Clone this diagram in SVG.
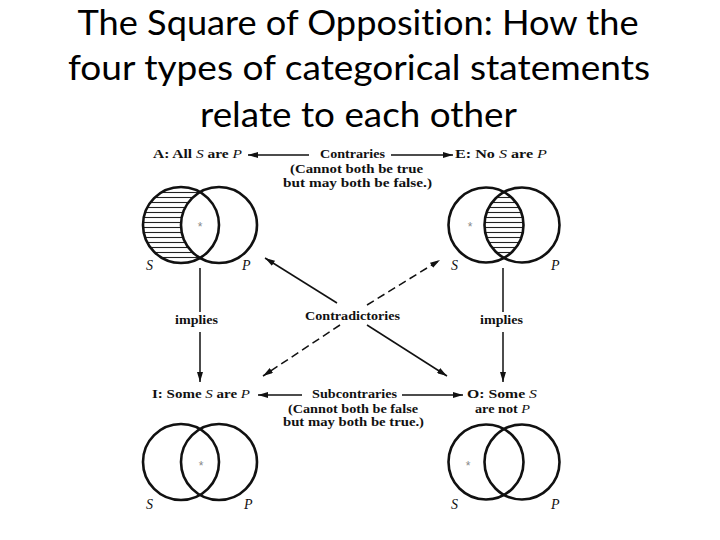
<svg xmlns="http://www.w3.org/2000/svg" width="720" height="540" viewBox="0 0 720 540">
<style>
.title{font-family:Lato,"Open Sans","Liberation Sans",sans-serif;font-size:35px;fill:#000;text-anchor:middle;font-variant-ligatures:none;font-feature-settings:"liga" 0,"clig" 0}
.lbl{font-family:"Liberation Serif","DejaVu Serif",serif;font-size:12.8px;font-weight:bold;fill:#111}
.sm{font-size:11.8px}
.it{font-style:italic;font-weight:normal}
.sp{font-family:"Liberation Serif","DejaVu Serif",serif;font-size:14px;font-style:italic;fill:#111}
.star{font-family:"Liberation Sans",sans-serif;font-size:12px;fill:#888;text-anchor:middle}
.circ{fill:none;stroke:#111;stroke-width:2.6}
.ln{stroke:#111;stroke-width:1.5;fill:none}
.dash{stroke-dasharray:8 4.5}
</style>
<defs>
<marker id="ah" markerUnits="userSpaceOnUse" markerWidth="10" markerHeight="6" refX="10" refY="3" orient="auto">
<path d="M0,0 L10,3 L0,6 z" fill="#111"/>
</marker>
<pattern id="hatch" patternUnits="userSpaceOnUse" width="8" height="5">
<line x1="0" y1="2.5" x2="8" y2="2.5" stroke="#222" stroke-width="1.1"/>
</pattern>
</defs>
<rect width="720" height="540" fill="#fff"/>
<g id="title">
<text class="title" x="358" y="34.5" textLength="561" lengthAdjust="spacingAndGlyphs">The Square of Opposition: How the</text>
<text class="title" x="359" y="80" textLength="582" lengthAdjust="spacingAndGlyphs">four types of categorical statements</text>
<text class="title" x="358.5" y="127" textLength="317" lengthAdjust="spacingAndGlyphs">relate to each other</text>
</g>
<g id="node-A">
<text class="lbl" x="153" y="158" textLength="89" lengthAdjust="spacingAndGlyphs">A: All <tspan class="it">S</tspan> are <tspan class="it">P</tspan></text>
<path d="M200,192.1 A38,38 0 1,0 200,257.9 A38,38 0 0,1 200,192.1 Z" fill="url(#hatch)"/>
<circle class="circ" cx="181" cy="225" r="38"/>
<circle class="circ" cx="219" cy="225" r="38"/>
<text class="star" x="200" y="231">*</text>
<text class="sp" x="146" y="270">S</text>
<text class="sp" x="242" y="270">P</text>
</g>
<g id="node-E">
<text class="lbl" x="455" y="158" textLength="92" lengthAdjust="spacingAndGlyphs">E: No <tspan class="it">S</tspan> are <tspan class="it">P</tspan></text>
<path d="M504,192.1 A37.5,37.5 0 0,1 504,257.9 A37.5,37.5 0 0,1 504,192.1 Z" fill="url(#hatch)"/>
<circle class="circ" cx="486" cy="225" r="37.5"/>
<circle class="circ" cx="522" cy="225" r="37.5"/>
<text class="star" x="470" y="231">*</text>
<text class="sp" x="451" y="270">S</text>
<text class="sp" x="551" y="270">P</text>
</g>
<g id="node-I">
<text class="lbl" x="152" y="398" textLength="98" lengthAdjust="spacingAndGlyphs">I: Some <tspan class="it">S</tspan> are <tspan class="it">P</tspan></text>
<circle class="circ" cx="181" cy="462" r="38"/>
<circle class="circ" cx="219" cy="462" r="38"/>
<text class="star" x="201" y="470">*</text>
<text class="sp" x="146" y="509">S</text>
<text class="sp" x="244" y="509">P</text>
</g>
<g id="node-O">
<text class="lbl" x="467" y="398" textLength="70" lengthAdjust="spacingAndGlyphs">O: Some <tspan class="it">S</tspan></text>
<text class="lbl sm" x="475" y="412.5" textLength="55" lengthAdjust="spacingAndGlyphs">are not <tspan class="it">P</tspan></text>
<circle class="circ" cx="486" cy="462" r="37.5"/>
<circle class="circ" cx="522" cy="462" r="37.5"/>
<text class="star" x="468" y="470">*</text>
<text class="sp" x="451" y="509">S</text>
<text class="sp" x="551" y="509">P</text>
</g>
<g id="connectors">
<line class="ln" x1="309" y1="155" x2="248" y2="155" marker-end="url(#ah)"/>
<line class="ln" x1="391" y1="155" x2="453" y2="155" marker-end="url(#ah)"/>
<line class="ln" x1="302" y1="395" x2="258" y2="395" marker-end="url(#ah)"/>
<line class="ln" x1="402" y1="395" x2="463" y2="395" marker-end="url(#ah)"/>
<line class="ln" x1="200" y1="268" x2="200" y2="312"/>
<line class="ln" x1="200" y1="332" x2="200" y2="382" marker-end="url(#ah)"/>
<line class="ln" x1="503" y1="268" x2="503" y2="312"/>
<line class="ln" x1="503" y1="332" x2="503" y2="382" marker-end="url(#ah)"/>
<line class="ln" x1="337" y1="303" x2="265" y2="258" marker-end="url(#ah)"/>
<line class="ln" x1="367" y1="325" x2="447" y2="376" marker-end="url(#ah)"/>
<line class="ln dash" x1="367" y1="305" x2="440" y2="260" marker-end="url(#ah)"/>
<line class="ln dash" x1="340" y1="325" x2="263" y2="376" marker-end="url(#ah)"/>
</g>
<g id="connector-labels">
<text class="lbl" x="320" y="158" textLength="65" lengthAdjust="spacingAndGlyphs">Contraries</text>
<text class="lbl sm" x="290" y="173" textLength="133" lengthAdjust="spacingAndGlyphs">(Cannot both be true</text>
<text class="lbl sm" x="283" y="186.5" textLength="149" lengthAdjust="spacingAndGlyphs">but may both be false.)</text>
<text class="lbl" x="175" y="324" textLength="43" lengthAdjust="spacingAndGlyphs">implies</text>
<text class="lbl" x="480" y="324" textLength="43" lengthAdjust="spacingAndGlyphs">implies</text>
<text class="lbl" x="305" y="320" textLength="95" lengthAdjust="spacingAndGlyphs">Contradictories</text>
<text class="lbl" x="312" y="398" textLength="85" lengthAdjust="spacingAndGlyphs">Subcontraries</text>
<text class="lbl sm" x="288" y="412.5" textLength="130" lengthAdjust="spacingAndGlyphs">(Cannot both be false</text>
<text class="lbl sm" x="283" y="426" textLength="141" lengthAdjust="spacingAndGlyphs">but may both be true.)</text>
</g>
</svg>
